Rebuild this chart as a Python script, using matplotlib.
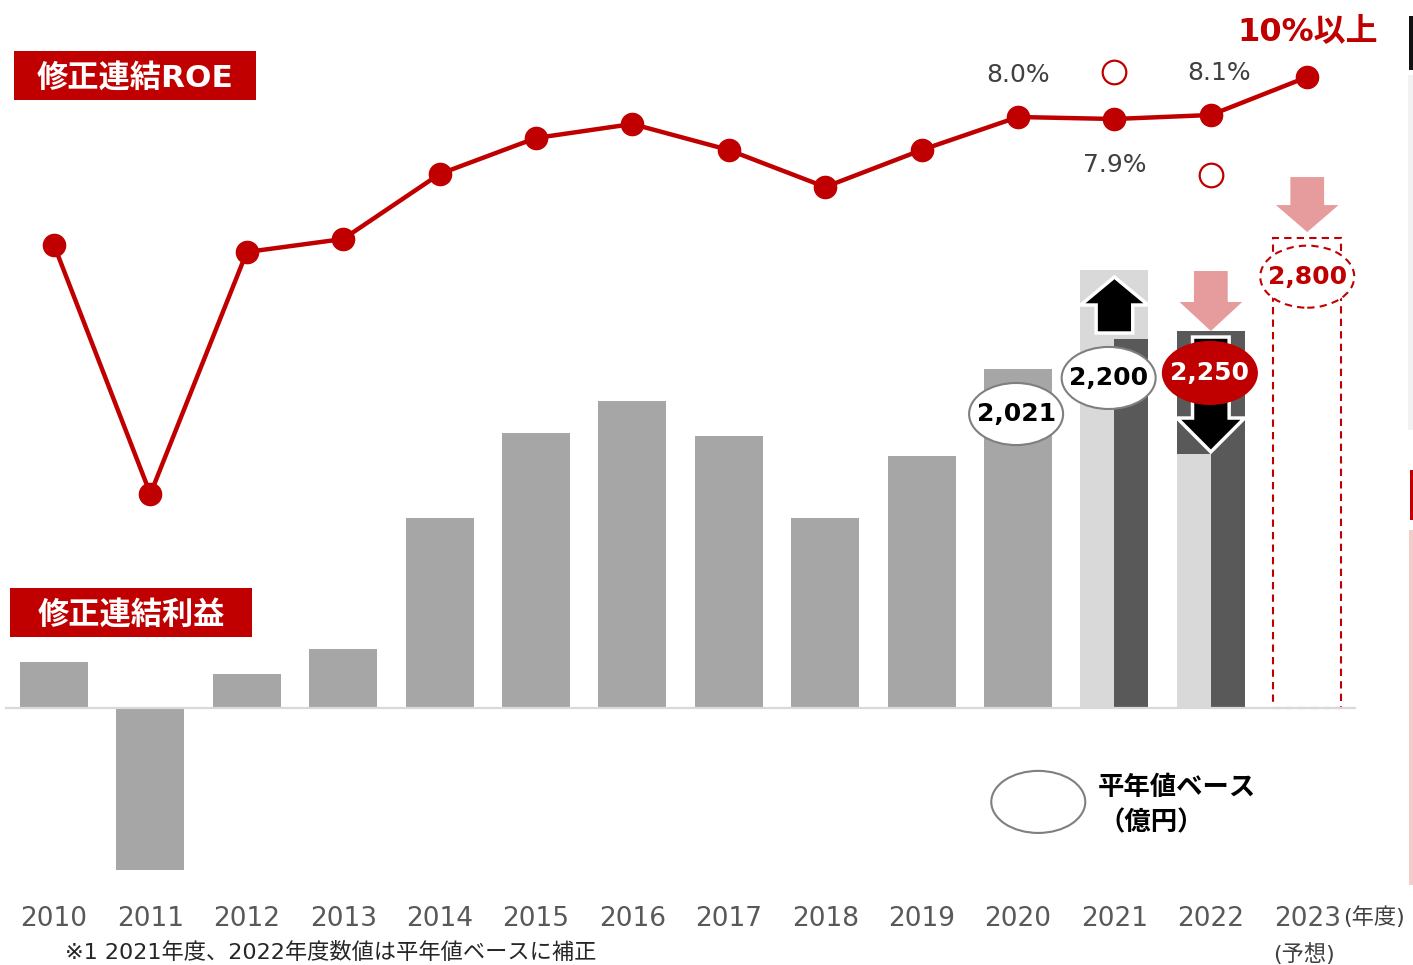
import matplotlib
matplotlib.use("Agg")
import matplotlib.pyplot as plt
from matplotlib.patches import Ellipse, Polygon, Rectangle

plt.rcParams['font.family'] = ['DejaVu Sans', 'Noto Sans CJK JP']

# ---------------- data ----------------
years = ["2010", "2011", "2012", "2013", "2014", "2015", "2016",
         "2017", "2018", "2019", "2020", "2021", "2022", "2023"]
profit = [274, -966, 203, 352, 1133, 1640, 1831, 1622, 1133, 1503, 2021]  # 2010-2020 (億円)
profit_reported = [2611, 1515]      # 2021, 2022 reported (light bars)
profit_normalized = [2200, 2250]    # 2021, 2022 平年値ベース (dark bars)
profit_target = 2800                # 2023 予想
roe = [1.6, -10.85, 1.25, 1.9, 5.15, 6.95, 7.65, 6.35, 4.5, 6.35, 8.0, 7.9, 8.1, 10.0]
roe_labels = {10: "8.0%", 11: "7.9%", 12: "8.1%"}
value_labels = ["2,021", "2,200", "2,250", "2,800"]

RED = "#C00000"
PINK = "#E69C9C"
MID = "#A6A6A6"
LIGHT = "#D9D9D9"
DARK = "#595959"
W = 0.705

fig = plt.figure(figsize=(14.13, 9.65), dpi=100)
ax = fig.add_axes([0, 0, 1, 1])
ax.set_xlim(-0.560, 14.097)
ax.set_ylim(-1532.5, 4221.8)
ax.axis('off')

n_hist = len(profit)
xs_hist = list(range(n_hist))
ax.bar(xs_hist, profit, width=W, color=MID, zorder=2)

# 2021
ax.bar(11, profit_reported[0], width=W, color=LIGHT, zorder=2)
ax.bar(11 + W / 4, profit_normalized[0], width=W / 2, color=DARK, zorder=3)
# 2022
ax.bar(12, profit_normalized[1], width=W, color=DARK, zorder=2)
ax.bar(12 - W / 4, profit_reported[1], width=W / 2, color=LIGHT, zorder=3)
# 2023 target (dashed outline)
ax.bar(13, profit_target, width=W, fill=False, edgecolor=RED, linewidth=1.5,
       linestyle=(0, (3.5, 2.5)), zorder=2)

# baseline
ax.plot([-0.5, 13.5], [0, 0], color=LIGHT, lw=1.6, zorder=4)


def block_arrow(x, y_tail, y_base, y_tip, shaft_w, head_w, **kw):
    pts = [(x - shaft_w / 2, y_tail), (x + shaft_w / 2, y_tail),
           (x + shaft_w / 2, y_base), (x + head_w / 2, y_base),
           (x, y_tip), (x - head_w / 2, y_base), (x - shaft_w / 2, y_base)]
    ax.add_patch(Polygon(pts, closed=True, **kw))


# black arrows
block_arrow(11, profit_normalized[0] + 36, profit_normalized[0] + 203, profit_reported[0] - 41,
            0.38, 0.70, facecolor="black", edgecolor="white", lw=2.5, zorder=5)
block_arrow(12, profit_normalized[1] - 38, profit_reported[1] + 214, profit_reported[1] + 12,
            0.38, 0.70, facecolor="black", edgecolor="white", lw=2.5, zorder=5)
# pink arrows
block_arrow(12, profit_normalized[1] + 356, profit_normalized[1] + 171, profit_normalized[1] - 2,
            0.35, 0.65, facecolor=PINK, edgecolor="none", zorder=5)
block_arrow(13, profit_target + 366, profit_target + 199, profit_target + 38,
            0.35, 0.65, facecolor=PINK, edgecolor="none", zorder=5)

# value ellipses
EW, EH = 0.975, 370
ell_specs = [
    (9.98, profit[10] - 268, "white", "#7F7F7F", "-", "black"),
    (10.94, profit_normalized[0] - 232, "white", "#7F7F7F", "-", "black"),
    (11.99, profit_normalized[1] - 252, RED, RED, "-", "white"),
    (13.0, profit_target - 228, "white", RED, (0, (3.5, 2.5)), RED),
]
for (cx, cy, fc, ec, ls, tc), lab in zip(ell_specs, value_labels):
    ax.add_patch(Ellipse((cx, cy), EW, EH, facecolor=fc, edgecolor=ec, lw=1.5,
                         linestyle=ls, zorder=6))
    ax.text(cx, cy, lab, ha='center', va='center', fontsize=18, fontweight='bold',
            color=tc, zorder=7)

# legend ellipse
ax.add_patch(Ellipse((10.21, -560), EW, EH, facecolor="white", edgecolor="#7F7F7F",
                     lw=1.5, zorder=6))
ax.text(10.83, -480, "平年値ベース", ha='left', va='center', fontsize=19,
        fontweight='bold', color="black")
ax.text(10.83, -685, "（億円）", ha='left', va='center', fontsize=19,
        fontweight='bold', color="black")

# year labels
for i, y in enumerate(years):
    ax.text(i, -1258, y, ha='center', va='center', fontsize=19, color=DARK)
ax.text(13.37, -1245, "(年度)", ha='left', va='center', fontsize=16, color="#404040")
ax.text(12.97, -1465, "(予想)", ha='center', va='center', fontsize=16, color="#404040")
ax.text(0.114, -1522, "※1 2021年度、2022年度数値は平年値ベースに補正", ha='left', va='bottom',
        fontsize=16, color="#262626")

# ---------------- ROE line ----------------
ax2 = ax.twinx()
ax2.set_position([0, 0, 1, 1])
ax2.set_ylim(-34.4, 13.85)
ax2.axis('off')
xs = list(range(len(roe)))
ax2.plot(xs, roe, color=RED, lw=3.2, marker='o', markersize=16, zorder=5,
         solid_joinstyle='round')
for i, lab in roe_labels.items():
    off = -2.3 if roe[i] < 8.0 else 2.1
    ax2.text(i + (0.09 if i == 12 else 0), roe[i] + off, lab, ha='center', va='center',
             fontsize=18, color="#404040")
# hollow circles
ax2.plot([11, 12], [10.25, 5.1], linestyle='none', marker='o', markersize=17,
         markerfacecolor='white', markeredgecolor=RED, markeredgewidth=1.6)
ax2.text(13.0, 12.25, "10%以上", ha='center', va='center', fontsize=23,
         fontweight='bold', color=RED)

# ---------------- title boxes ----------------
def title_box(x0, y0, x1, y1, text):
    fw, fh = 1413.0, 965.0
    fig.patches.append(Rectangle((x0 / fw, 1 - y1 / fh), (x1 - x0) / fw, (y1 - y0) / fh,
                                 transform=fig.transFigure, facecolor=RED,
                                 edgecolor='none', zorder=10))
    fig.text((x0 + x1) / 2 / fw, 1 - (y0 + y1 + 5) / 2 / fh, text, ha='center', va='center',
             fontsize=22.5, fontweight='bold', color='white', zorder=11)


title_box(14, 51, 256, 100, "修正連結ROE")
title_box(10, 588, 252, 637, "修正連結利益")

# cut-off slide elements at the right edge
for (x0, y0, x1, y1, c) in [(1409, 16, 1413, 70, "#111111"), (1408, 75, 1413, 430, "#F2F2F2"),
                            (1410, 470, 1413, 520, RED), (1409, 530, 1413, 885, "#F4CCCC")]:
    fig.patches.append(Rectangle((x0 / 1413, 1 - y1 / 965), (x1 - x0) / 1413, (y1 - y0) / 965,
                                 transform=fig.transFigure, facecolor=c, edgecolor='none'))

fig.savefig("out.png", dpi=100)
